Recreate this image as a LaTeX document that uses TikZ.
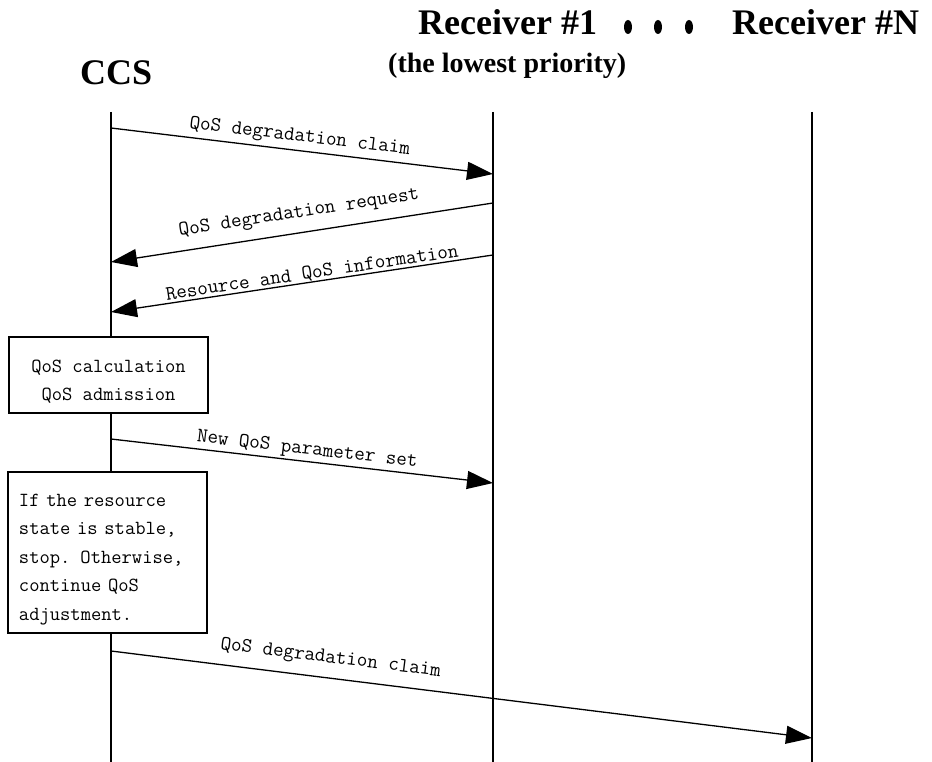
\documentclass[tikz,border=0pt]{standalone}
\usepackage{fontspec}
\setmainfont{Liberation Serif}
\usetikzlibrary{arrows.meta}
\tikzset{
  head/.style={font=\fontsize{36}{40}\selectfont\bfseries, inner sep=0pt, anchor=base west},
  subhead/.style={font=\fontsize{28}{32}\selectfont\bfseries, inner sep=0pt, anchor=base west},
  life/.style={line width=1.3pt},
  msg/.style={line width=1.3pt, -{Triangle[length=26pt,width=18pt]}},
  lbl/.style={font=\fontsize{20.5}{24}\selectfont\ttfamily, inner sep=0pt, sloped},
  note/.style={draw, line width=1.3pt, fill=white,
    font=\fontsize{20}{28.5}\selectfont\ttfamily, minimum width=199pt},
  dot/.style={fill=black}
}
% strut that lowers the first line of a note
\newcommand{\topgap}{\rule{0pt}{26pt}}
\begin{document}
\begin{tikzpicture}[x=1pt, y=-1pt]
  \useasboundingbox (0,0) rectangle (932,762);

  % participants
  \node[head] (ccs) at (80,85) {CCS};
  \node[head] (rc1) at (418,35) {Receiver \#1};
  \node[head] (rcn) at (732,35) {Receiver \#N};
  \node[subhead] (prio) at (388,73) {(the lowest priority)};
  \fill[dot] (628,27) ellipse (4 and 7);
  \fill[dot] (658,27) ellipse (4 and 7);
  \fill[dot] (689,27) ellipse (4 and 7);

  % lifelines
  \coordinate (ccsTop) at (111,112);
  \coordinate (ccsBot) at (111,762);
  \coordinate (r1Top)  at (493,112);
  \coordinate (r1Bot)  at (493,762);
  \coordinate (rnTop)  at (812,112);
  \coordinate (rnBot)  at (812,762);
  \draw[life] (ccsTop) -- (ccsBot);
  \draw[life] (r1Top) -- (r1Bot);
  \draw[life] (rnTop) -- (rnBot);

  % message end points on the lifelines
  \coordinate (m1s) at (111,128);
  \coordinate (m1e) at (493,174);
  \coordinate (m2s) at (493,203);
  \coordinate (m2e) at (111,262);
  \coordinate (m3s) at (493,255);
  \coordinate (m3e) at (111,312);
  \coordinate (m4s) at (111,439);
  \coordinate (m4e) at (493,483);
  \coordinate (m5s) at (111,651);
  \coordinate (m5e) at (812,738);

  % messages
  \draw[msg] (m1s) -- node[lbl, pos=0.49, above=4pt] (l1) {QoS degradation claim} (m1e);
  \draw[msg] (m2s) -- node[lbl, pos=0.50, above=10pt] (l2) {QoS degradation request} (m2e);
  \draw[msg] (m3s) -- node[lbl, pos=0.47, above=0pt] (l3) {Resource and QoS information} (m3e);
  \draw[msg] (m4s) -- node[lbl, pos=0.51, above=2pt] (l4) {New QoS parameter set} (m4e);
  \draw[msg] (m5s) -- node[lbl, pos=0.31, above=10pt] (l5) {QoS degradation claim} (m5e);

  % processing notes on the CCS lifeline
  \node[note, align=center, minimum height=76pt] (calc) at (108.5,375)
    {\topgap QoS calculation\\QoS admission};
  \node[note, align=left, text width=177pt, inner xsep=11pt, minimum height=161pt] (stop) at (107.5,552.5)
    {\topgap If the resource\\state is stable,\\stop. Otherwise,\\continue QoS\\adjustment.};
\end{tikzpicture}
\end{document}
